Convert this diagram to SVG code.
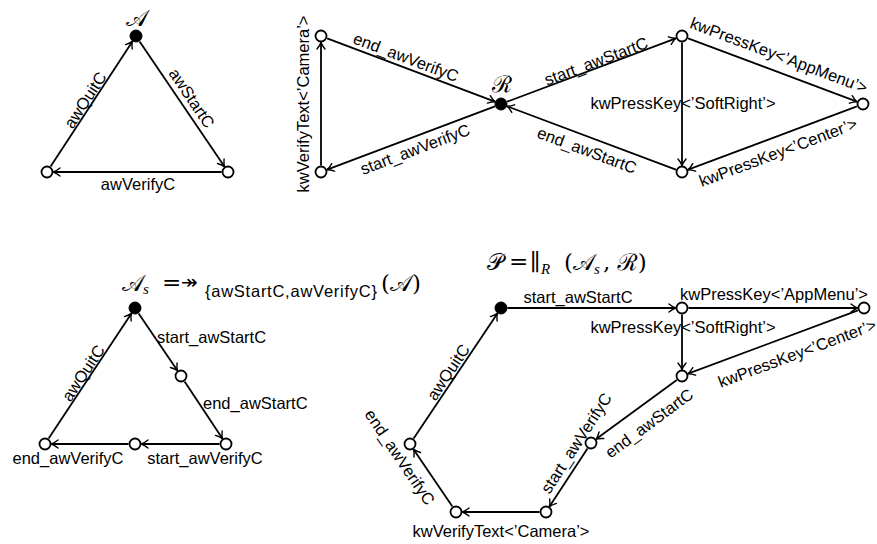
<svg xmlns="http://www.w3.org/2000/svg" width="877" height="544" viewBox="0 0 877 544">
<style>
.e{stroke:#000;stroke-width:1.8;fill:none;marker-end:url(#arr)}
.n{fill:#fff;stroke:#000;stroke-width:1.8}
.i{fill:#000;stroke:#000;stroke-width:1}
.l{font-family:"Liberation Sans",Arial,sans-serif;font-size:16.5px;fill:#000}
.c{text-anchor:middle;dominant-baseline:central}
.m{font-family:"DejaVu Serif","Liberation Serif","Noto Sans",serif;font-size:23px;fill:#000}
.mi{font-family:"Liberation Serif",serif;font-style:italic;font-size:15px;fill:#000}
</style>
<defs>
<marker id="arr" markerUnits="userSpaceOnUse" markerWidth="12" markerHeight="12" viewBox="-8 -6 10 12" refX="0" refY="0" orient="auto">
<path d="M-6.5,-4 C-3.5,-1.6 -1.2,-0.4 0,0 C-1.2,0.4 -3.5,1.6 -6.5,4" fill="none" stroke="#000" stroke-width="1.4" stroke-linecap="round"/>
</marker>
</defs>
<rect width="877" height="544" fill="#fff"/>

<!-- connectors -->
<g id="connectors">
<!-- top-left A -->
<line class="e" x1="139.6" y1="41.4" x2="224.4" y2="166.6"/>
<line class="e" x1="221.5" y1="172" x2="53.5" y2="172"/>
<line class="e" x1="50.6" y1="166.6" x2="132.4" y2="41.4"/>
<!-- top-right R -->
<line class="e" x1="327.1" y1="38.3" x2="494.9" y2="101.7"/>
<line class="e" x1="494.9" y1="106.3" x2="327.1" y2="169.7"/>
<line class="e" x1="321" y1="165.5" x2="321" y2="42.5"/>
<line class="e" x1="507.1" y1="101.7" x2="675.9" y2="38.3"/>
<line class="e" x1="675.9" y1="169.7" x2="507.1" y2="106.3"/>
<line class="e" x1="688.1" y1="38.3" x2="856.9" y2="101.7"/>
<line class="e" x1="856.9" y1="106.3" x2="688.1" y2="169.7"/>
<line class="e" x1="682" y1="42.5" x2="682" y2="165.5"/>
<!-- bottom-left As -->
<line class="e" x1="138.6" y1="313.4" x2="177.4" y2="370.6"/>
<line class="e" x1="184.6" y1="381.4" x2="222.4" y2="438.6"/>
<line class="e" x1="219.5" y1="444" x2="141.5" y2="444"/>
<line class="e" x1="128.5" y1="444" x2="51.5" y2="444"/>
<line class="e" x1="48.6" y1="438.6" x2="131.4" y2="313.4"/>
<!-- bottom-right P -->
<line class="e" x1="507.5" y1="308" x2="675.5" y2="308"/>
<line class="e" x1="688.5" y1="308" x2="857.5" y2="308"/>
<line class="e" x1="682" y1="314.5" x2="682" y2="369.5"/>
<line class="e" x1="857.9" y1="310.3" x2="688.1" y2="373.7"/>
<line class="e" x1="676.8" y1="379.9" x2="596.2" y2="439.1"/>
<line class="e" x1="587.5" y1="448.4" x2="549.5" y2="506.6"/>
<line class="e" x1="539.5" y1="512" x2="462.5" y2="512"/>
<line class="e" x1="452.4" y1="506.6" x2="413.6" y2="449.4"/>
<line class="e" x1="413.6" y1="438.6" x2="497.4" y2="313.4"/>
</g>

<!-- edge labels -->
<g id="labels" class="l">
<text class="c" transform="translate(85,100) rotate(-56.8)">awQuitC</text>
<text class="c" transform="translate(192,98) rotate(55.9)">awStartC</text>
<text class="c" x="138" y="184">awVerifyC</text>

<text class="c" transform="translate(406,57) rotate(20.7)">end_awVerifyC</text>
<text class="c" transform="translate(415,149) rotate(-20.7)">start_awVerifyC</text>
<text class="c" transform="translate(303,104) rotate(-90)">kwVerifyText&lt;’Camera’&gt;</text>
<text class="c" transform="translate(596,61) rotate(-20.6)">start_awStartC</text>
<text class="c" transform="translate(587,150) rotate(20.6)">end_awStartC</text>
<text class="c" x="683" y="103">kwPressKey&lt;’SoftRight’&gt;</text>
<text class="c" transform="translate(779,55) rotate(20.6)">kwPressKey&lt;’AppMenu’&gt;</text>
<text class="c" transform="translate(778,152) rotate(-20.6)">kwPressKey&lt;’Center’&gt;</text>

<text class="c" transform="translate(83,373) rotate(-56.5)">awQuitC</text>
<text x="157" y="337" dominant-baseline="central">start_awStartC</text>
<text x="203" y="403" dominant-baseline="central">end_awStartC</text>
<text class="c" x="68" y="458">end_awVerifyC</text>
<text class="c" x="205" y="458">start_awVerifyC</text>

<text class="c" x="578" y="297">start_awStartC</text>
<text class="c" x="774" y="294">kwPressKey&lt;’AppMenu’&gt;</text>
<text class="c" x="683" y="327">kwPressKey&lt;’SoftRight’&gt;</text>
<text class="c" transform="translate(797,353) rotate(-20.5)">kwPressKey&lt;’Center’&gt;</text>
<text class="c" transform="translate(649,423) rotate(-36.4)">end_awStartC</text>
<text class="c" transform="translate(576,443) rotate(-56.9)">start_awVerifyC</text>
<text class="c" x="501" y="531">kwVerifyText&lt;’Camera’&gt;</text>
<text class="c" transform="translate(400,457) rotate(56)">end_awVerifyC</text>
<text class="c" transform="translate(448,372) rotate(-56.2)">awQuitC</text>
</g>

<!-- titles / formulas -->
<g id="title-A"><text class="m" x="137" y="26" text-anchor="middle" font-size="25">𝒜</text></g>
<g id="title-R"><text class="m" x="502" y="92" text-anchor="middle" font-size="25">ℛ</text></g>
<g id="formula-As">
<text class="m" x="122" y="291">𝒜</text>
<text class="mi" x="143" y="294">s</text>
<text class="m" x="162" y="290">=</text>
<text x="181" y="289" font-family="DejaVu Sans,sans-serif" font-size="20">↠</text>
<text class="l" x="205" y="297" textLength="172" lengthAdjust="spacing">{awStartC,awVerifyC}</text>
<text class="m" x="381" y="291">(𝒜)</text>
</g>
<g id="formula-P">
<text class="m" x="487" y="270">𝒫</text>
<text class="m" x="509" y="269">=</text>
<text class="m" x="530" y="270">∥</text>
<text class="mi" x="541" y="274">R</text>
<text class="m" x="564" y="270">(𝒜</text>
<text class="mi" x="594" y="274">s</text>
<text class="m" x="603" y="270">, ℛ)</text>
</g>

<!-- nodes -->
<g id="A0"><circle class="i" cx="136" cy="36" r="6"/></g>
<g id="A1"><circle class="n" cx="47" cy="172" r="5.5"/></g>
<g id="A2"><circle class="n" cx="228" cy="172" r="5.5"/></g>

<g id="R0"><circle class="i" cx="501" cy="104" r="6"/></g>
<g id="R1"><circle class="n" cx="321" cy="36" r="5.5"/></g>
<g id="R2"><circle class="n" cx="321" cy="172" r="5.5"/></g>
<g id="R3"><circle class="n" cx="682" cy="36" r="5.5"/></g>
<g id="R4"><circle class="n" cx="863" cy="104" r="5.5"/></g>
<g id="R5"><circle class="n" cx="682" cy="172" r="5.5"/></g>

<g id="S0"><circle class="i" cx="135" cy="308" r="6"/></g>
<g id="S1"><circle class="n" cx="181" cy="376" r="5.5"/></g>
<g id="S2"><circle class="n" cx="226" cy="444" r="5.5"/></g>
<g id="S3"><circle class="n" cx="135" cy="444" r="5.5"/></g>
<g id="S4"><circle class="n" cx="45" cy="444" r="5.5"/></g>

<g id="P0"><circle class="i" cx="501" cy="308" r="6"/></g>
<g id="P1"><circle class="n" cx="682" cy="308" r="5.5"/></g>
<g id="P2"><circle class="n" cx="864" cy="308" r="5.5"/></g>
<g id="P3"><circle class="n" cx="682" cy="376" r="5.5"/></g>
<g id="P4"><circle class="n" cx="591" cy="443" r="5.5"/></g>
<g id="P5"><circle class="n" cx="546" cy="512" r="5.5"/></g>
<g id="P6"><circle class="n" cx="456" cy="512" r="5.5"/></g>
<g id="P7"><circle class="n" cx="410" cy="444" r="5.5"/></g>
</svg>
